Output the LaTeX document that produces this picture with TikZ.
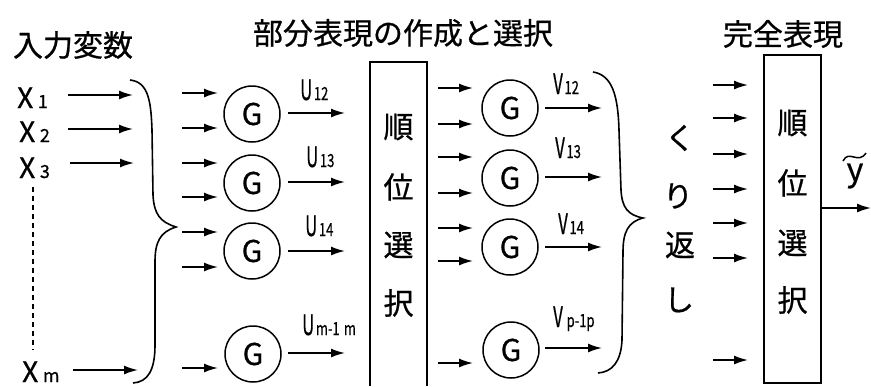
\documentclass[tikz,border=0pt]{standalone}
\usepackage{fontspec}
\setmainfont{Noto Sans CJK JP}[FakeBold=0.7]
\usepackage{graphicx}
\usetikzlibrary{arrows.meta}
\newcommand\mySub[2]{{\fontsize{28}{28}\selectfont\scalebox{0.6}[1]{#1}}\,{\fontsize{18}{18}\selectfont\scalebox{0.72}[1]{#2}}}
\begin{document}
\begin{tikzpicture}[x=1pt,y=-1pt,
  arr/.style={-{Latex[length=14pt,width=9pt]}, line width=1.6pt},
  gnode/.style={circle, draw, line width=1.5pt, minimum size=56pt, inner sep=0pt, font=\fontsize{30}{30}\selectfont},
  boxline/.style={draw, line width=1.6pt},
  brace/.style={line width=1.6pt},
  jp/.style={font=\fontsize{30}{30}\selectfont, inner sep=0pt},
  title/.style={font=\fontsize{30}{30}\selectfont, inner sep=0pt},
  xlab/.style={anchor=base west, inner sep=0pt, font=\fontsize{28}{28}\selectfont},
  sublab/.style={anchor=base west, inner sep=0pt}
]
\useasboundingbox (0,0) rectangle (871,386);

% titles
\node[title] (t1) at (73,45) {入力変数};
\node[title] (t2) at (403,33) {部分表現の作成と選択};
\node[title] (t3) at (783,34) {完全表現};

% input variables
\node[xlab] (x1) at (17,108) {X\,{\fontsize{18}{18}\selectfont 1}};
\node[xlab] (x2) at (19,142) {X\,{\fontsize{18}{18}\selectfont 2}};
\node[xlab] (x3) at (19,178) {X\,{\fontsize{18}{18}\selectfont 3}};
\node[xlab] (xm) at (22,382) {X\,{\fontsize{18}{18}\selectfont m}};
\coordinate (d1) at (33,187);
\coordinate (d2) at (33,350);
\draw[line width=1.4pt, dash pattern=on 5pt off 4pt] (d1) -- (d2);

\coordinate (ax1s) at (68,95);  \coordinate (ax1e) at (133,95);
\coordinate (ax2s) at (68,129); \coordinate (ax2e) at (133,129);
\coordinate (ax3s) at (70,163); \coordinate (ax3e) at (134,163);
\coordinate (axms) at (73,370); \coordinate (axme) at (138,370);
\draw[arr] (ax1s) -- (ax1e);
\draw[arr] (ax2s) -- (ax2e);
\draw[arr] (ax3s) -- (ax3e);
\draw[arr] (axms) -- (axme);

% left brace
\draw[brace] (130,80) .. controls (148,82) and (151,100) .. (152,130) -- (153,195)
  .. controls (154,214) and (160,222) .. (176,227)
  .. controls (160,232) and (155,242) .. (155,262) -- (155,345)
  .. controls (155,370) and (148,382) .. (133,383);

% left G column
\node[gnode] (GL1) at (252,114) {G};
\node[gnode] (GL2) at (252,183) {G};
\node[gnode] (GL3) at (252,251) {G};
\node[gnode] (GL4) at (253,354) {G};
\foreach \y in {93,128,163,197,232,267,368}{
  \draw[arr] (182,\y) -- (218,\y);
}
\foreach \y in {113,182,251,353}{
  \draw[arr] (288,\y) -- (345,\y);
}
\node[sublab] (u12) at (300,100) {\mySub{U}{12}};
\node[sublab] (u13) at (306,167) {\mySub{U}{13}};
\node[sublab] (u14) at (305,236) {\mySub{U}{14}};
\node[sublab] (u1m) at (302,335) {\mySub{U}{m-1\,\,m}};

% first rank box
\draw[boxline] (370,386) -- (370,62) -- (427,62) -- (427,386);
\node[jp] (b1a) at (398.5,127) {順};
\node[jp] (b1b) at (398.5,187) {位};
\node[jp] (b1c) at (398.5,245) {選};
\node[jp] (b1d) at (398.5,303) {択};

% right G column
\node[gnode] (GR1) at (510,108) {G};
\node[gnode] (GR2) at (510,178) {G};
\node[gnode] (GR3) at (510,247) {G};
\node[gnode] (GR4) at (511,350) {G};
\foreach \y in {88,124,157,193,228,261,363}{
  \draw[arr] (438,\y) -- (473,\y);
}
\foreach \y in {108,177,247,348}{
  \draw[arr] (545,\y) -- (602,\y);
}
\node[sublab] (v12) at (553,94) {\mySub{V}{12}};
\node[sublab] (v13) at (555,158) {\mySub{V}{13}};
\node[sublab] (v14) at (558,234) {\mySub{V}{14}};
\node[sublab] (v1p) at (553,327) {\mySub{V}{\,p-1p}};

% right brace
\draw[brace] (593,72) .. controls (612,75) and (618,95) .. (619,130) -- (621,190)
  .. controls (622,208) and (628,215) .. (643,218)
  .. controls (628,222) and (623,232) .. (623,252) -- (622,340)
  .. controls (621,362) and (612,372) .. (598,373);

% kurikaeshi
\node[jp] (k1) at (680,138) {く};
\node[jp] (k2) at (678,196) {り};
\node[jp] (k3) at (680,245) {返};
\node[jp] (k4) at (679,300) {し};

% final stage
\foreach \y in {85,118,154,189,223,258,360}{
  \draw[arr] (713,\y) -- (748,\y);
}
\draw[boxline] (764,55) rectangle (821,383);
\node[jp] (b2a) at (792.5,123) {順};
\node[jp] (b2b) at (792.5,183) {位};
\node[jp] (b2c) at (792.5,243) {選};
\node[jp] (b2d) at (792.5,300) {択};
\coordinate (outs) at (821,208);
\coordinate (oute) at (871,208);
\draw[arr] (outs) -- (oute);
\node[inner sep=0pt, font=\fontsize{32}{32}\selectfont] (yt) at (855,176) {y};
\draw[line width=1.5pt] (843,161) .. controls (849,149) and (858,165) .. (866,153);
\end{tikzpicture}
\end{document}
